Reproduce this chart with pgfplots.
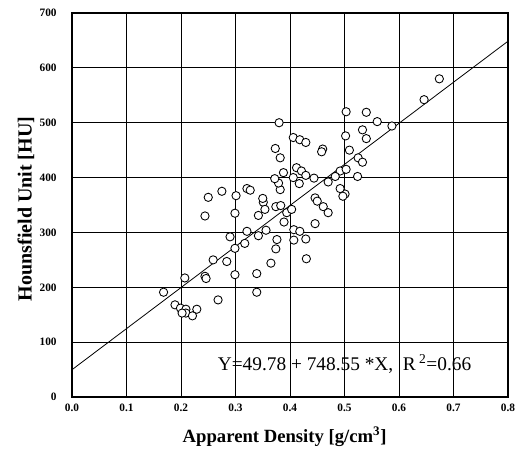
\documentclass[border=0pt]{standalone}
\usepackage{fontspec}
\setmainfont{Liberation Serif}
\usepackage{pgfplots}
\pgfplotsset{compat=1.18}
\usetikzlibrary{calc}

\begin{document}
\begin{tikzpicture}
\begin{axis}[
  scale only axis, width=327pt, height=288pt,
  xmin=0, xmax=0.8, ymin=0, ymax=700,
  xtick={0,0.1,0.2,0.3,0.4,0.5,0.6,0.7,0.8},
  ytick={0,100,200,300,400,500,600,700},
  grid=major,
  major grid style={black, line width=0.6pt},
  axis line style={black, line width=0.8pt},
  major tick length=0pt,
  /pgf/number format/assume math mode=true,
  xticklabel style={font=\fontsize{8.5}{10}\selectfont\bfseries, yshift=-2pt,
    /pgf/number format/.cd, fixed, fixed zerofill, precision=1},
  yticklabel style={font=\fontsize{8.5}{10}\selectfont\bfseries, xshift=-8pt},
]
\coordinate (ll) at (rel axis cs:0,0);
\coordinate (ur) at (rel axis cs:1,1);
\addplot[black, line width=0.6pt] coordinates {(0,49.78) (0.8,648.62)};
\addplot[only marks, mark=*, mark size=3.1pt,
  mark options={fill=white, draw=black, line width=0.65pt}] table {
x y
0.168 191
0.189 168
0.199 162
0.209 160
0.209 153
0.221 148
0.229 160
0.202 153
0.207 217
0.259 250
0.284 247
0.244 220
0.246 216
0.268 177
0.299 223
0.339 225
0.339 191
0.299 271
0.317 280
0.290 292
0.321 302
0.342 294
0.356 304
0.376 287
0.374 270
0.365 244
0.244 330
0.299 335
0.250 364
0.275 375
0.301 367
0.321 380
0.327 377
0.351 355
0.350 362
0.354 342
0.342 331
0.374 347
0.382 378
0.379 390
0.372 398
0.383 349
0.394 336
0.403 342
0.389 319
0.407 305
0.418 302
0.407 286
0.429 288
0.430 252
0.446 316
0.446 363
0.450 357
0.461 347
0.470 336
0.501 370
0.492 380
0.497 366
0.388 409
0.412 418
0.421 412
0.429 404
0.444 399
0.417 389
0.406 400
0.492 412
0.503 415
0.483 402
0.524 402
0.470 392
0.373 453
0.382 436
0.380 500
0.406 473
0.418 469
0.429 464
0.460 452
0.458 447
0.503 520
0.540 519
0.560 502
0.587 494
0.533 487
0.540 471
0.502 476
0.509 450
0.525 436
0.533 428
0.646 542
0.674 580
};
\node[font=\fontsize{14.5}{16}\selectfont] at (axis cs:0.50,60)
  {Y=49.78 + 748.55 *X,\ \ R\,\textsuperscript{2}=0.66};
\end{axis}
\node[rotate=90, font=\fontsize{15}{17}\selectfont\bfseries]
  at ($(ll)!0.5!(ll|-ur)+(-34.5pt,-3pt)$) {Hounsfield Unit [HU]};
\node[font=\fontsize{14}{16}\selectfont\bfseries]
  at ($(ll)!0.5!(ur|-ll)+(-4pt,-30pt)$) {Apparent Density [g/cm\textsuperscript{3}]};
\pgfresetboundingbox
\useasboundingbox ($(ll)+(-54pt,-38.25pt)$) rectangle ($(ur)+(9pt,9.75pt)$);
\end{tikzpicture}
\end{document}
